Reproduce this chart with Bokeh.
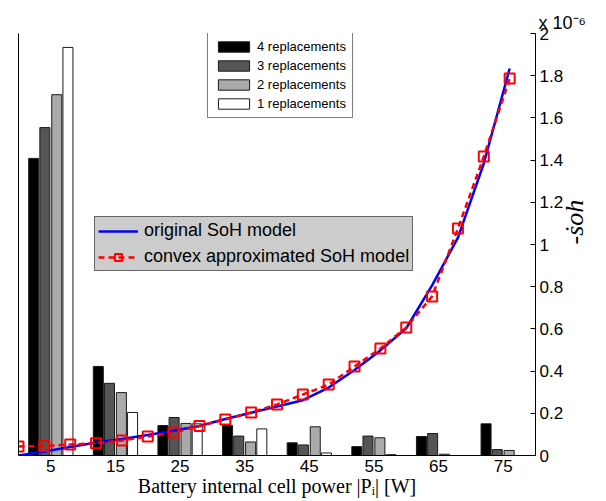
import math
from bokeh.plotting import figure
from bokeh.models import (Range1d, LinearAxis, FixedTicker, Legend, LegendItem,
                          NumeralTickFormatter)
from bokeh.embed import file_html
from bokeh.resources import INLINE

# ---------------- data ----------------
positions = [5, 15, 25, 35, 45, 55, 65, 75]          # histogram bin centres [W]
rep4 = [0.704, 0.211, 0.071, 0.071, 0.030, 0.021, 0.045, 0.075]
rep3 = [0.777, 0.171, 0.090, 0.046, 0.025, 0.046, 0.052, 0.014]
rep2 = [0.855, 0.149, 0.076, 0.032, 0.068, 0.042, 0.003, 0.012]
rep1 = [0.967, 0.102, 0.075, 0.063, 0.006, 0.002, 0.000, 0.000]
bar_names = ["4 replacements", "3 replacements", "2 replacements", "1 replacements"]

power_pts = [0, 4, 8, 12, 16, 20, 24, 28, 32, 36, 40, 44, 48, 52, 56, 60, 64, 68, 72, 76]
orig_soh = [0.0, 0.019, 0.040, 0.062, 0.078, 0.097, 0.117, 0.140, 0.173, 0.203,
            0.232, 0.262, 0.322, 0.405, 0.498, 0.603, 0.806, 1.033, 1.384, 1.834]
approx_soh = [0.043, 0.045, 0.052, 0.058, 0.071, 0.090, 0.109, 0.140, 0.171, 0.204,
              0.242, 0.289, 0.336, 0.422, 0.507, 0.607, 0.754, 1.076, 1.417, 1.787]
soh_ticks = [0, 0.2, 0.4, 0.6, 0.8, 1.0, 1.2, 1.4, 1.6, 1.8, 2.0]

SANS = "Liberation Sans"
SERIF = "Liberation Serif"

# ---------------- figure ----------------
p = figure(width=606, height=501, x_range=Range1d(0, 80), y_range=Range1d(0, 2),
           output_backend="svg", toolbar_location=None,
           x_axis_location=None, y_axis_location=None,
           min_border_left=18, min_border_right=68, min_border_top=33, min_border_bottom=46)
p.extra_y_ranges = {"bars": Range1d(0, 1)}
p.outline_line_color = None
p.background_fill_color = "white"
p.border_fill_color = "white"
for g in p.grid:
    g.visible = False

# scale factor note shown above the right axis
p.title.text = "x 10\u207b\u2076"
p.title.align = "left"
p.title.offset = 520
p.title.standoff = 2
p.title.text_font = SANS
p.title.text_font_size = "18px"
p.title.text_font_style = "normal"
p.title.text_color = "black"

xaxis = LinearAxis(ticker=FixedTicker(ticks=positions), major_tick_in=0, major_tick_out=0,
                   minor_tick_line_color=None, major_label_standoff=4,
                   major_label_text_font=SANS, major_label_text_font_size="17px",
                   major_label_text_color="black", axis_line_color="black", axis_line_width=1,
                   axis_label="Battery internal cell power |P\u1d62| [W]",
                   axis_label_text_font=SERIF, axis_label_text_font_size="20px",
                   axis_label_text_font_style="normal", axis_label_text_color="black",
                   axis_label_standoff=0)
p.add_layout(xaxis, "below")

laxis = LinearAxis(y_range_name="bars", ticker=FixedTicker(ticks=[]),
                   major_tick_line_color=None, minor_tick_line_color=None,
                   major_label_text_font_size="0px", major_label_standoff=0,
                   axis_line_color="black", axis_line_width=1)
p.add_layout(laxis, "left")

raxis = LinearAxis(ticker=FixedTicker(ticks=soh_ticks), major_tick_in=5, major_tick_out=0,
                   minor_tick_line_color=None, major_label_standoff=4,
                   formatter=NumeralTickFormatter(format="0.[0]"),
                   major_label_text_font=SANS, major_label_text_font_size="17px",
                   major_label_text_color="black", axis_line_color="black", axis_line_width=1,
                   major_tick_line_color="black",
                   axis_label="-\u1e61oh", axis_label_text_font=SERIF,
                   axis_label_text_font_size="26px", axis_label_text_font_style="italic",
                   axis_label_text_color="black", axis_label_standoff=8,
                   axis_label_orientation=math.pi / 2)
p.add_layout(raxis, "right")

# ---------------- bars ----------------
offsets = [-2.65, -0.92, 0.92, 2.65]
colors = ["#000000", "#555555", "#aaaaaa", "#ffffff"]
bar_renderers = []
for vals, off, col in zip([rep4, rep3, rep2, rep1], offsets, colors):
    xs = [c + off for c in positions]
    r = p.vbar(x=xs, top=vals, bottom=0, width=1.55, fill_color=col,
               line_color="#1a1a1a", line_width=1, y_range_name="bars")
    bar_renderers.append(r)

# ---------------- curves ----------------
blue = p.line(power_pts, orig_soh, line_color="#0000ff", line_width=2.5)
red_line = p.line(power_pts, approx_soh, line_color="#ff0000", line_width=2.5, line_dash="6 4")
red_sq = p.scatter(power_pts, approx_soh, marker="square", size=10, line_color="#ff0000",
                   line_width=2, fill_color=None)

# ---------------- legends ----------------
leg_bars = Legend(items=[LegendItem(label=n, renderers=[r]) for n, r in zip(bar_names, bar_renderers)],
                  location=(189, 337), orientation="vertical", margin=0,
                  background_fill_color="white", background_fill_alpha=1,
                  border_line_color="black", border_line_width=1,
                  label_text_font=SANS, label_text_font_size="13px", label_text_color="black",
                  glyph_width=39, glyph_height=13, label_height=13, spacing=4, padding=6,
                  label_standoff=4)
p.add_layout(leg_bars)

leg_main = Legend(items=[LegendItem(label="original SoH model", renderers=[blue]),
                         LegendItem(label="convex approximated SoH model", renderers=[red_line, red_sq])],
                  location=(76, 184), orientation="vertical", margin=0,
                  background_fill_color="#cccccc", background_fill_alpha=1,
                  border_line_color="black", border_line_width=1,
                  label_text_font=SANS, label_text_font_size="18px", label_text_color="black",
                  glyph_width=40, glyph_height=18, label_height=18, spacing=5, padding=3,
                  label_standoff=6)
p.add_layout(leg_main)

open("out.html", "w").write(file_html(p, INLINE))
